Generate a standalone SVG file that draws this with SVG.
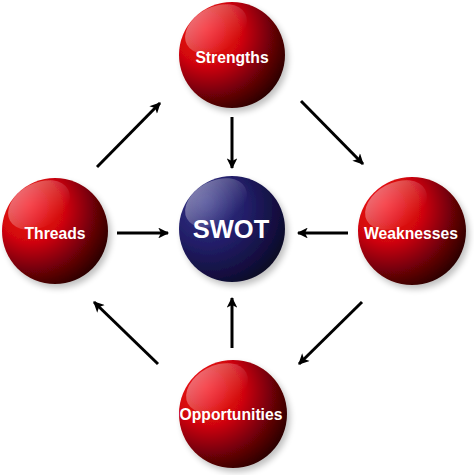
<svg xmlns="http://www.w3.org/2000/svg" width="474" height="475" viewBox="0 0 474 475">
<defs>
<radialGradient id="red" cx="0.3" cy="0.32" r="0.82" fx="0.25" fy="0.25">
<stop offset="0" stop-color="#f41018"/>
<stop offset="0.4" stop-color="#d0060c"/>
<stop offset="0.75" stop-color="#600206"/>
<stop offset="1" stop-color="#1a0000"/>
</radialGradient>
<radialGradient id="blue" cx="0.3" cy="0.32" r="0.82" fx="0.25" fy="0.25">
<stop offset="0" stop-color="#343488"/>
<stop offset="0.45" stop-color="#221e68"/>
<stop offset="0.8" stop-color="#120e3c"/>
<stop offset="1" stop-color="#06041a"/>
</radialGradient>
<linearGradient id="gloss" x1="0" y1="0" x2="0.6" y2="1">
<stop offset="0" stop-color="#fff" stop-opacity="0.45"/>
<stop offset="1" stop-color="#fff" stop-opacity="0"/>
</linearGradient>
<filter id="sh" x="-20%" y="-20%" width="150%" height="150%">
<feGaussianBlur in="SourceAlpha" stdDeviation="3"/>
<feOffset dx="3" dy="4" result="b"/>
<feComponentTransfer><feFuncA type="linear" slope="0.25"/></feComponentTransfer>
<feMerge><feMergeNode/><feMergeNode in="SourceGraphic"/></feMerge>
</filter>
<marker id="ah" viewBox="0 0 10 10" refX="9" refY="5" markerWidth="5.5" markerHeight="3.6" markerUnits="strokeWidth" orient="auto">
<path d="M0,0 L10,5 L0,10 L2.5,5 Z" fill="#000"/>
</marker>
</defs>
<style>
.lbl{font-family:"Liberation Sans",Arial,sans-serif;font-weight:bold;fill:#fff;text-anchor:middle;dominant-baseline:central;font-size:15.7px}
.big{font-size:25.5px}
.conn line{stroke:#000;stroke-width:3;marker-end:url(#ah)}
.gl{fill:url(#gloss)}
</style>
<rect width="474" height="475" fill="#fff"/>
<g class="conn" id="connectors">
<line x1="232" y1="117" x2="232" y2="168"/>
<line x1="117" y1="233" x2="168" y2="233"/>
<line x1="348" y1="233" x2="298" y2="233"/>
<line x1="232" y1="348" x2="232" y2="298"/>
<line x1="97" y1="167" x2="160" y2="103"/>
<line x1="301" y1="101" x2="363" y2="164"/>
<line x1="362" y1="302" x2="299" y2="364"/>
<line x1="158" y1="364" x2="94" y2="302"/>
</g>
<g id="strengths">
<circle cx="232" cy="55" r="53" fill="url(#red)" filter="url(#sh)"/>
<ellipse class="gl" cx="216" cy="29" rx="33" ry="22" transform="rotate(-28 216 29)"/>
<text class="lbl" x="232" y="57">Strengths</text>
</g>
<g id="threads">
<circle cx="55" cy="231" r="53" fill="url(#red)" filter="url(#sh)"/>
<ellipse class="gl" cx="39" cy="205" rx="33" ry="22" transform="rotate(-28 39 205)"/>
<text class="lbl" x="55" y="233">Threads</text>
</g>
<g id="swot">
<circle cx="232" cy="229" r="53" fill="url(#blue)" filter="url(#sh)"/>
<ellipse class="gl" cx="216" cy="203" rx="33" ry="22" transform="rotate(-28 216 203)"/>
<text class="lbl big" x="231" y="229">SWOT</text>
</g>
<g id="weaknesses">
<circle cx="412" cy="231" r="54" fill="url(#red)" filter="url(#sh)"/>
<ellipse class="gl" cx="396" cy="205" rx="33" ry="22" transform="rotate(-28 396 205)"/>
<text class="lbl" x="411" y="233">Weaknesses</text>
</g>
<g id="opportunities">
<circle cx="233" cy="414" r="54" fill="url(#red)" filter="url(#sh)"/>
<ellipse class="gl" cx="217" cy="388" rx="33" ry="22" transform="rotate(-28 217 388)"/>
<text class="lbl" x="231" y="414">Opportunities</text>
</g>
</svg>
